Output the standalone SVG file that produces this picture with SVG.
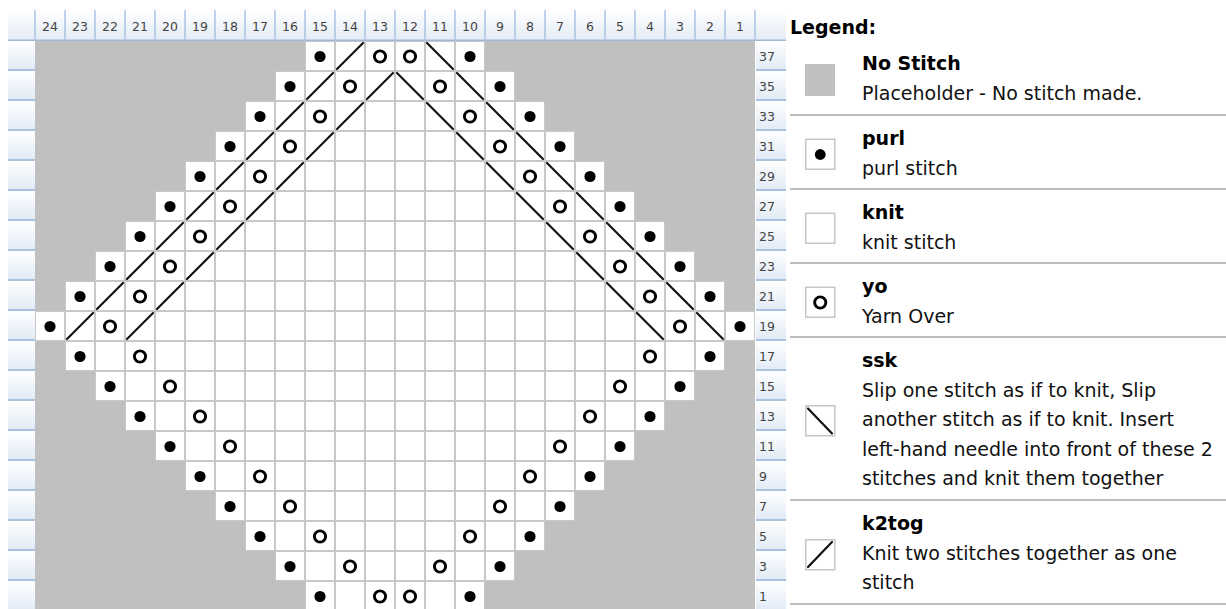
<svg xmlns="http://www.w3.org/2000/svg" xmlns:xlink="http://www.w3.org/1999/xlink" width="1226" height="609" viewBox="0 0 1226 609">
<style>
.hd{font-family:"DejaVu Sans","Liberation Sans",sans-serif;font-size:12.5px;fill:#444;text-anchor:middle}
.rl{font-family:"DejaVu Sans","Liberation Sans",sans-serif;font-size:12.5px;fill:#444}
.tt{font-family:"DejaVu Sans","Liberation Sans",sans-serif;font-size:19px;font-weight:bold;fill:#000}
.ds{font-family:"DejaVu Sans","Liberation Sans",sans-serif;font-size:19px;fill:#111}
.sep{stroke:#a8a8a8;stroke-width:1.5}
.sw{fill:#fff;stroke:#c6c6c6;stroke-width:1.5}
.sym{stroke:#111;stroke-width:2.2;stroke-linecap:round}
</style>
<defs>
<linearGradient id="hg" x1="0" y1="0" x2="0" y2="1"><stop offset="0" stop-color="#ffffff"/><stop offset="1" stop-color="#e2ebf6"/></linearGradient>
<pattern id="cells" patternUnits="userSpaceOnUse" x="35" y="41" width="30" height="30"><rect width="30" height="30" fill="#c8c8c8"/><rect x="1" y="1" width="28" height="28" fill="#fff"/></pattern>
<pattern id="lbl" patternUnits="userSpaceOnUse" x="0" y="41" width="30" height="30"><rect width="30" height="28" fill="url(#hg)"/><rect y="28" width="30" height="2" fill="#a7c3df"/></pattern>
<g id="pd"><circle cx="15" cy="15.5" r="5.6" fill="#000"/></g>
<g id="yo"><circle cx="15" cy="15.5" r="5.6" fill="none" stroke="#000" stroke-width="2.9"/></g>
<g id="ss"><line class="sym" x1="2" y1="2" x2="28" y2="28"/></g>
<g id="kt"><line class="sym" x1="2" y1="28" x2="28" y2="2"/></g>
</defs>
<rect width="1226" height="609" fill="#fff"/>
<g id="header">
<rect x="8" y="10" width="778" height="31" fill="url(#hg)"/>
<rect x="8" y="39.5" width="778" height="1.5" fill="#9dbad8"/>
<path d="M35 10V41M65 10V41M95 10V41M125 10V41M155 10V41M185 10V41M215 10V41M245 10V41M275 10V41M305 10V41M335 10V41M365 10V41M395 10V41M425 10V41M455 10V41M485 10V41M515 10V41M545 10V41M575 10V41M605 10V41M635 10V41M665 10V41M695 10V41M725 10V41M755 10V41" stroke="#a9c4e2" stroke-width="1.5"/>
<text class="hd" x="50" y="31">24</text><text class="hd" x="80" y="31">23</text><text class="hd" x="110" y="31">22</text><text class="hd" x="140" y="31">21</text><text class="hd" x="170" y="31">20</text><text class="hd" x="200" y="31">19</text><text class="hd" x="230" y="31">18</text><text class="hd" x="260" y="31">17</text><text class="hd" x="290" y="31">16</text><text class="hd" x="320" y="31">15</text><text class="hd" x="350" y="31">14</text><text class="hd" x="380" y="31">13</text><text class="hd" x="410" y="31">12</text><text class="hd" x="440" y="31">11</text><text class="hd" x="470" y="31">10</text><text class="hd" x="500" y="31">9</text><text class="hd" x="530" y="31">8</text><text class="hd" x="560" y="31">7</text><text class="hd" x="590" y="31">6</text><text class="hd" x="620" y="31">5</text><text class="hd" x="650" y="31">4</text><text class="hd" x="680" y="31">3</text><text class="hd" x="710" y="31">2</text><text class="hd" x="740" y="31">1</text>
</g>
<g id="row-labels">
<rect x="8" y="41" width="27" height="570" fill="url(#lbl)"/>
<rect x="756" y="41" width="30" height="570" fill="url(#lbl)"/>
<text class="rl" x="759" y="61">37</text><text class="rl" x="759" y="91">35</text><text class="rl" x="759" y="121">33</text><text class="rl" x="759" y="151">31</text><text class="rl" x="759" y="181">29</text><text class="rl" x="759" y="211">27</text><text class="rl" x="759" y="241">25</text><text class="rl" x="759" y="271">23</text><text class="rl" x="759" y="301">21</text><text class="rl" x="759" y="331">19</text><text class="rl" x="759" y="361">17</text><text class="rl" x="759" y="391">15</text><text class="rl" x="759" y="421">13</text><text class="rl" x="759" y="451">11</text><text class="rl" x="759" y="481">9</text><text class="rl" x="759" y="511">7</text><text class="rl" x="759" y="541">5</text><text class="rl" x="759" y="571">3</text><text class="rl" x="759" y="601">1</text>
</g>
<g id="chart">
<rect x="35" y="41" width="720" height="570" fill="#c0c0c0"/>
<g id="cells-white" fill="url(#cells)">
<rect x="305" y="41" width="180" height="30"/>
<rect x="275" y="71" width="240" height="30"/>
<rect x="245" y="101" width="300" height="30"/>
<rect x="215" y="131" width="360" height="30"/>
<rect x="185" y="161" width="420" height="30"/>
<rect x="155" y="191" width="480" height="30"/>
<rect x="125" y="221" width="540" height="30"/>
<rect x="95" y="251" width="600" height="30"/>
<rect x="65" y="281" width="660" height="30"/>
<rect x="35" y="311" width="720" height="30"/>
<rect x="65" y="341" width="660" height="30"/>
<rect x="95" y="371" width="600" height="30"/>
<rect x="125" y="401" width="540" height="30"/>
<rect x="155" y="431" width="480" height="30"/>
<rect x="185" y="461" width="420" height="30"/>
<rect x="215" y="491" width="360" height="30"/>
<rect x="245" y="521" width="300" height="30"/>
<rect x="275" y="551" width="240" height="30"/>
<rect x="305" y="581" width="180" height="30"/>
</g>
<g id="row37"><use href="#pd" x="305" y="41"/><use href="#kt" x="335" y="41"/><use href="#yo" x="365" y="41"/><use href="#yo" x="395" y="41"/><use href="#ss" x="425" y="41"/><use href="#pd" x="455" y="41"/></g>
<g id="row35"><use href="#pd" x="275" y="71"/><use href="#kt" x="305" y="71"/><use href="#yo" x="335" y="71"/><use href="#kt" x="365" y="71"/><use href="#ss" x="395" y="71"/><use href="#yo" x="425" y="71"/><use href="#ss" x="455" y="71"/><use href="#pd" x="485" y="71"/></g>
<g id="row33"><use href="#pd" x="245" y="101"/><use href="#kt" x="275" y="101"/><use href="#yo" x="305" y="101"/><use href="#kt" x="335" y="101"/><use href="#ss" x="425" y="101"/><use href="#yo" x="455" y="101"/><use href="#ss" x="485" y="101"/><use href="#pd" x="515" y="101"/></g>
<g id="row31"><use href="#pd" x="215" y="131"/><use href="#kt" x="245" y="131"/><use href="#yo" x="275" y="131"/><use href="#kt" x="305" y="131"/><use href="#ss" x="455" y="131"/><use href="#yo" x="485" y="131"/><use href="#ss" x="515" y="131"/><use href="#pd" x="545" y="131"/></g>
<g id="row29"><use href="#pd" x="185" y="161"/><use href="#kt" x="215" y="161"/><use href="#yo" x="245" y="161"/><use href="#kt" x="275" y="161"/><use href="#ss" x="485" y="161"/><use href="#yo" x="515" y="161"/><use href="#ss" x="545" y="161"/><use href="#pd" x="575" y="161"/></g>
<g id="row27"><use href="#pd" x="155" y="191"/><use href="#kt" x="185" y="191"/><use href="#yo" x="215" y="191"/><use href="#kt" x="245" y="191"/><use href="#ss" x="515" y="191"/><use href="#yo" x="545" y="191"/><use href="#ss" x="575" y="191"/><use href="#pd" x="605" y="191"/></g>
<g id="row25"><use href="#pd" x="125" y="221"/><use href="#kt" x="155" y="221"/><use href="#yo" x="185" y="221"/><use href="#kt" x="215" y="221"/><use href="#ss" x="545" y="221"/><use href="#yo" x="575" y="221"/><use href="#ss" x="605" y="221"/><use href="#pd" x="635" y="221"/></g>
<g id="row23"><use href="#pd" x="95" y="251"/><use href="#kt" x="125" y="251"/><use href="#yo" x="155" y="251"/><use href="#kt" x="185" y="251"/><use href="#ss" x="575" y="251"/><use href="#yo" x="605" y="251"/><use href="#ss" x="635" y="251"/><use href="#pd" x="665" y="251"/></g>
<g id="row21"><use href="#pd" x="65" y="281"/><use href="#kt" x="95" y="281"/><use href="#yo" x="125" y="281"/><use href="#kt" x="155" y="281"/><use href="#ss" x="605" y="281"/><use href="#yo" x="635" y="281"/><use href="#ss" x="665" y="281"/><use href="#pd" x="695" y="281"/></g>
<g id="row19"><use href="#pd" x="35" y="311"/><use href="#kt" x="65" y="311"/><use href="#yo" x="95" y="311"/><use href="#kt" x="125" y="311"/><use href="#ss" x="635" y="311"/><use href="#yo" x="665" y="311"/><use href="#ss" x="695" y="311"/><use href="#pd" x="725" y="311"/></g>
<g id="row17"><use href="#pd" x="65" y="341"/><use href="#yo" x="125" y="341"/><use href="#yo" x="635" y="341"/><use href="#pd" x="695" y="341"/></g>
<g id="row15"><use href="#pd" x="95" y="371"/><use href="#yo" x="155" y="371"/><use href="#yo" x="605" y="371"/><use href="#pd" x="665" y="371"/></g>
<g id="row13"><use href="#pd" x="125" y="401"/><use href="#yo" x="185" y="401"/><use href="#yo" x="575" y="401"/><use href="#pd" x="635" y="401"/></g>
<g id="row11"><use href="#pd" x="155" y="431"/><use href="#yo" x="215" y="431"/><use href="#yo" x="545" y="431"/><use href="#pd" x="605" y="431"/></g>
<g id="row9"><use href="#pd" x="185" y="461"/><use href="#yo" x="245" y="461"/><use href="#yo" x="515" y="461"/><use href="#pd" x="575" y="461"/></g>
<g id="row7"><use href="#pd" x="215" y="491"/><use href="#yo" x="275" y="491"/><use href="#yo" x="485" y="491"/><use href="#pd" x="545" y="491"/></g>
<g id="row5"><use href="#pd" x="245" y="521"/><use href="#yo" x="305" y="521"/><use href="#yo" x="455" y="521"/><use href="#pd" x="515" y="521"/></g>
<g id="row3"><use href="#pd" x="275" y="551"/><use href="#yo" x="335" y="551"/><use href="#yo" x="425" y="551"/><use href="#pd" x="485" y="551"/></g>
<g id="row1"><use href="#pd" x="305" y="581"/><use href="#yo" x="365" y="581"/><use href="#yo" x="395" y="581"/><use href="#pd" x="455" y="581"/></g>
</g>
<g id="legend">
<text class="tt" x="790" y="34">Legend:</text>
<g id="leg-nostitch"><rect x="805" y="64" width="30" height="32" fill="#c0c0c0"/><text class="tt" x="862" y="70">No Stitch</text><text class="ds" x="862" y="99.5">Placeholder - No stitch made.</text></g>
<line class="sep" x1="790" y1="115" x2="1226" y2="115"/>
<g id="leg-purl"><rect class="sw" x="805.75" y="139.25" width="29" height="30"/><circle cx="820.25" cy="154.5" r="5.4" fill="#000"/><text class="tt" x="862" y="145">purl</text><text class="ds" x="862" y="174.5">purl stitch</text></g>
<line class="sep" x1="790" y1="189" x2="1226" y2="189"/>
<g id="leg-knit"><rect class="sw" x="805.75" y="213.25" width="29" height="30"/><text class="tt" x="862" y="219">knit</text><text class="ds" x="862" y="248.5">knit stitch</text></g>
<line class="sep" x1="790" y1="263" x2="1226" y2="263"/>
<g id="leg-yo"><rect class="sw" x="805.75" y="287.25" width="29" height="30"/><circle cx="820.25" cy="302.5" r="5.6" fill="none" stroke="#000" stroke-width="2.9"/><text class="tt" x="862" y="293">yo</text><text class="ds" x="862" y="322.5">Yarn Over</text></g>
<line class="sep" x1="790" y1="337" x2="1226" y2="337"/>
<g id="leg-ssk"><rect class="sw" x="805.75" y="405.75" width="29" height="30"/><line class="sym" x1="808" y1="408.5" x2="832" y2="433.5"/><text class="tt" x="862" y="367">ssk</text><text class="ds" x="862" y="396.5">Slip one stitch as if to knit, Slip</text><text class="ds" x="862" y="426">another stitch as if to knit. Insert</text><text class="ds" x="862" y="455.5">left-hand needle into front of these 2</text><text class="ds" x="862" y="485">stitches and knit them together</text></g>
<line class="sep" x1="790" y1="500" x2="1226" y2="500"/>
<g id="leg-k2tog"><rect class="sw" x="805.75" y="539.75" width="29" height="30"/><line class="sym" x1="808" y1="567" x2="832" y2="542"/><text class="tt" x="862" y="530">k2tog</text><text class="ds" x="862" y="559.5">Knit two stitches together as one</text><text class="ds" x="862" y="589">stitch</text></g>
<line class="sep" x1="790" y1="604" x2="1226" y2="604"/>
</g>
</svg>
